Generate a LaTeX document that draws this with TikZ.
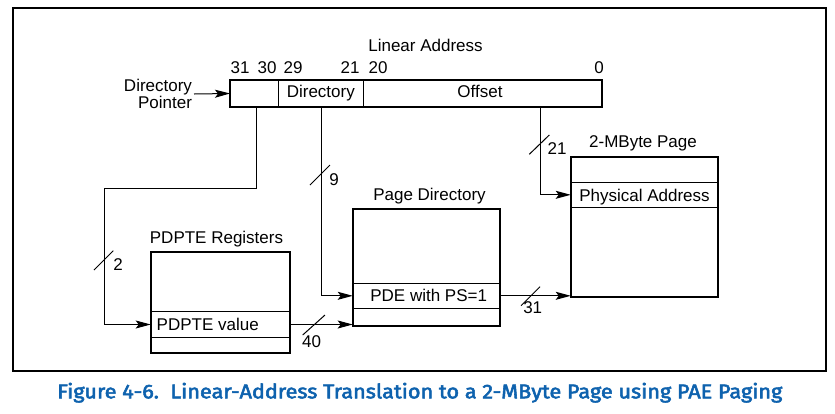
\documentclass[tikz,border=0pt]{standalone}
\usepackage{fontspec}
\setmainfont{Liberation Sans}
\newfontfamily\capfont[FakeBold=2.6]{Fira Sans}
\usetikzlibrary{arrows.meta,calc}
\definecolor{capblue}{RGB}{14,98,174}
\begin{document}
\begin{tikzpicture}[x=1pt,y=-1pt,
  every node/.style={font=\fontsize{17}{14.5}\selectfont, inner sep=0pt, outer sep=0pt},
  box/.style={draw, line width=2pt, anchor=north west},
  row/.style={anchor=north west},
  divline/.style={line width=1pt},
  conn/.style={line width=1pt, -{Stealth[length=15pt,width=8pt,inset=3pt]}},
  slashline/.style={line width=1pt},
]
\useasboundingbox (0,0) rectangle (835,413);
\draw[line width=2.2pt] (13.3,7.7) rectangle (826,371);

% Linear address
\node[anchor=base] (latitle) at (425.5,51) {Linear Address};
\node[box, minimum width=372pt, minimum height=27pt] (la) at (230,80) {};
\draw[divline] (278.3,80) -- (278.3,107);
\draw[divline] (363.3,80) -- (363.3,107);
\node[anchor=base] (ladir) at (320.8,97) {Directory};
\node[anchor=base] (laoff) at (480,97) {Offset};
\node[anchor=base] (n31) at (240,73) {31};
\node[anchor=base] (n30) at (267,73) {30};
\node[anchor=base] (n29) at (293,73) {29};
\node[anchor=base] (n21) at (350,73) {21};
\node[anchor=base] (n20) at (378,73) {20};
\node[anchor=base] (n0) at (599,73) {0};
\node[align=right, anchor=east] (dp) at (192,94) {Directory\\Pointer};
\draw[conn] ([xshift=2pt]dp.east) -- (la.west);

% PDPTE registers
\node[anchor=base] (pdptetitle) at (216.5,243.3) {PDPTE Registers};
\node[box, minimum width=139.3pt, minimum height=101.6pt] (pdpte) at (150.7,251.7) {};
\node[row, minimum width=139.3pt, minimum height=25.6pt] (pdv) at (150.7,311.7) {};
\draw[divline] (pdv.north west) -- (pdv.north east);
\draw[divline] (pdv.south west) -- (pdv.south east);
\node[anchor=base west] (pdvt) at (156.7,330) {PDPTE value};

% Page directory
\node[anchor=base] (pdtitle) at (429.5,200) {Page Directory};
\node[box, minimum width=147.3pt, minimum height=116.7pt] (pd) at (352.7,209) {};
\node[row, minimum width=147.3pt, minimum height=25pt] (pde) at (352.7,283.3) {};
\draw[divline] (pde.north west) -- (pde.north east);
\draw[divline] (pde.south west) -- (pde.south east);
\node[anchor=base] (pdet) at (428.7,301.7) {PDE with PS=1};

% 2-MByte page
\node[anchor=base] (pgtitle) at (643,147.3) {2-MByte Page};
\node[box, minimum width=147.6pt, minimum height=139.4pt] (pg) at (570.7,157.3) {};
\node[row, minimum width=147.6pt, minimum height=25pt] (pa) at (570.7,182.3) {};
\draw[divline] (pa.north west) -- (pa.north east);
\draw[divline] (pa.south west) -- (pa.south east);
\node[anchor=base west] (pat) at (579.3,201.7) {Physical Address};

% connectors
\coordinate (b31) at (256,107);
\coordinate (k1) at (104,188);
\coordinate (bdir) at (321.7,107);
\coordinate (boff) at (540.5,107);
\draw[conn] (b31) |- (k1) |- (pdv.west);
\draw[conn] (bdir) |- (pde.west);
\draw[conn] (boff) |- (pa.west);
\draw[conn] (pdv.east) -- (pdv.east -| pd.west);
\draw[conn] (pde.east) -- (pde.east -| pg.west);

% slashes and widths
\draw[slashline] (94,270) -- (113.3,250.7);
\node (w2) at (118,265) {2};
\draw[slashline] (310,185) -- (330,165);
\node (w9) at (334,180) {9};
\draw[slashline] (302.7,335) -- (325,315);
\node (w40) at (311.7,341.7) {40};
\draw[slashline] (521,305.7) -- (540,286.7);
\node (w31) at (532.7,308) {31};
\draw[slashline] (529.3,154.3) -- (549.3,135);
\node (w21) at (557,149) {21};

% caption
\node[anchor=base west, text=capblue] (cap) at (57.3,398.3)
  {\resizebox{725pt}{15.5pt}{\capfont Figure 4-6.\ \ Linear-Address Translation to a 2-MByte Page using PAE Paging}};
\end{tikzpicture}
\end{document}
